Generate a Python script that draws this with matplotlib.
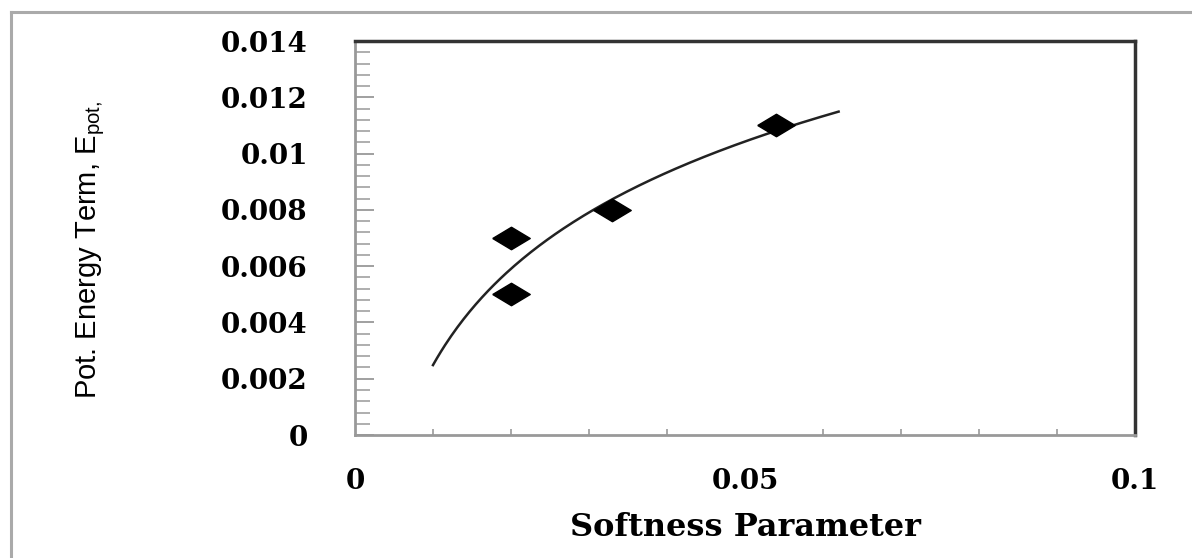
import numpy as np
import matplotlib
matplotlib.use('Agg')
from matplotlib import pyplot as plt
from matplotlib.lines import Line2D

# data
softness = [0.02, 0.02, 0.033, 0.054]
e_pot = [0.007, 0.005, 0.008, 0.011]
trend_from, trend_to = 0.01, 0.062   # range of the log trendline

x_ticks = [0, 0.05, 0.1]
x_ticklabels = ['0', '0.05', '0.1']
y_ticks = [0, 0.002, 0.004, 0.006, 0.008, 0.01, 0.012, 0.014]
y_ticklabels = ['0', '0.002', '0.004', '0.006', '0.008', '0.01', '0.012', '0.014']

plt.rcParams['mathtext.fontset'] = 'custom'
plt.rcParams['mathtext.rm'] = 'Liberation Sans'
plt.rcParams['mathtext.default'] = 'regular'

fig = plt.figure(figsize=(11.92, 5.58), dpi=100)
fig.patch.set_facecolor('white')

# grey frame on the top and left of the picture
fig.add_artist(Line2D([0.009, 1.0], [0.978, 0.978], transform=fig.transFigure, color='#aaaaaa', lw=2.2))
fig.add_artist(Line2D([0.009, 0.009], [0.0, 0.978], transform=fig.transFigure, color='#aaaaaa', lw=2.2))

ax = fig.add_axes([0.2978, 0.2204, 0.6544, 0.7061])

# logarithmic trendline, fitted to the points like the spreadsheet does
b, a = np.polyfit(np.log(softness), e_pot, 1)
xt = np.linspace(trend_from, trend_to, 200)
ax.plot(xt, a + b * np.log(xt), color='#222222', lw=1.8)

# flattened diamonds
diamond = [(-1, 0), (0, 0.6), (1, 0), (0, -0.6), (-1, 0)]
ax.plot(softness, e_pot, linestyle='none', marker=diamond, markersize=27,
        color='black')

ax.set_xlim(0, 0.1)
ax.set_ylim(0, 0.014)

ax.set_xticks(x_ticks)
ax.set_xticklabels(x_ticklabels)
ax.set_yticks(y_ticks)
ax.set_yticklabels(y_ticklabels)
ax.set_xticks(np.arange(0, 0.1001, 0.01), minor=True)
ax.set_yticks(np.arange(0, 0.01401, 0.0004), minor=True)

for lab in ax.get_xticklabels() + ax.get_yticklabels():
    lab.set_fontfamily('DejaVu Serif')
    lab.set_fontweight('bold')
    lab.set_fontsize(20)

ax.tick_params(axis='y', which='major', direction='in', length=14, width=1.3, color='#999999', pad=34)
ax.tick_params(axis='y', which='minor', direction='in', length=11, width=1.1, color='#999999')
ax.tick_params(axis='x', which='major', direction='in', length=0, pad=24)
ax.tick_params(axis='x', which='minor', direction='in', length=4, width=1.2, color='#999999')

ax.spines['left'].set_color('#999999')
ax.spines['bottom'].set_color('#999999')
ax.spines['left'].set_linewidth(2)
ax.spines['bottom'].set_linewidth(2)
ax.spines['top'].set_color('#333333')
ax.spines['right'].set_color('#333333')
ax.spines['top'].set_linewidth(2.5)
ax.spines['right'].set_linewidth(2.5)

ax.set_xlabel('Softness Parameter', fontfamily='DejaVu Serif', fontweight='bold',
              fontsize=23, labelpad=12)
ax.set_ylabel('Pot. Energy Term, E$_{pot,}$', fontfamily='Liberation Sans',
              fontsize=21)
ax.yaxis.set_label_coords(-0.318, 0.47)

plt.savefig('out.png', dpi=100)
